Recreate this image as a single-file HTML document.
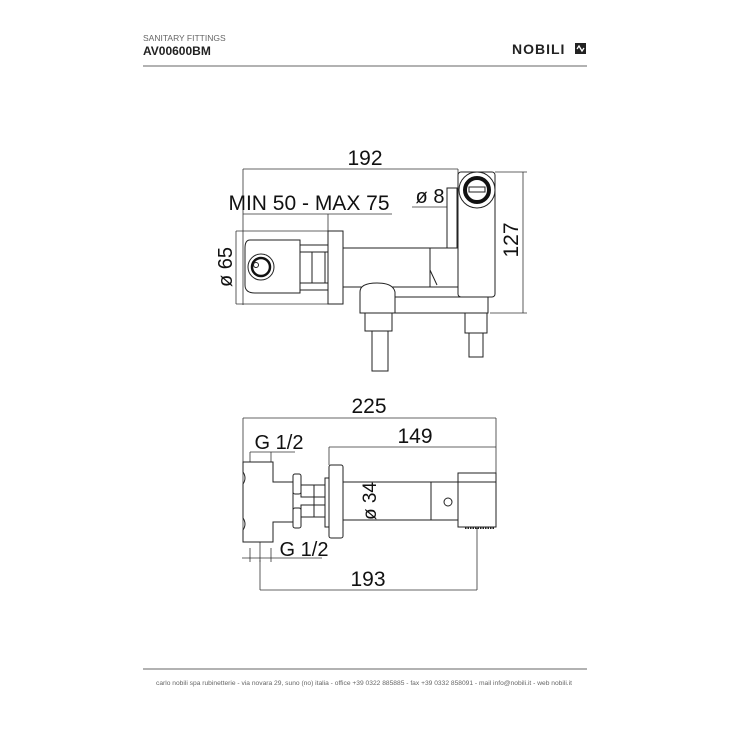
<!DOCTYPE html>
<html><head><meta charset="utf-8"><style>
html,body{margin:0;padding:0;background:#fff;width:737px;height:737px;overflow:hidden}
svg{display:block}
text{font-family:"Liberation Sans",sans-serif;fill:#111}
</style></head><body>
<svg width="737" height="737" viewBox="0 0 737 737" xmlns="http://www.w3.org/2000/svg">
<text x="143" y="41" style="fill:#666" font-size="8.5">SANITARY FITTINGS</text>
<text x="143" y="55" font-size="12" font-weight="bold" style="fill:#222">AV00600BM</text>
<text x="512" y="54" font-size="14" font-weight="bold" letter-spacing="1" style="fill:#222">NOBILI</text>
<rect x="575" y="43" width="11" height="11" fill="#222"/>
<path d="M577 49 l2 -3 l3 5 l2 -3" stroke="#fff" stroke-width="1.3" fill="none"/>
<line x1="143" y1="66" x2="587" y2="66" stroke="#999" stroke-width="1.5"/>
<line x1="143" y1="669" x2="587" y2="669" stroke="#999" stroke-width="1.5"/>
<text x="156" y="685" font-size="6.5" textLength="416" lengthAdjust="spacingAndGlyphs" style="fill:#666">carlo nobili spa rubinetterie - via novara 29, suno (no) italia - office +39 0322 885885 - fax +39 0332 858091 - mail info@nobili.it - web nobili.it</text>

<g stroke="#333" stroke-width="0.8" fill="none">
<line x1="243" y1="169" x2="458" y2="169"/>
<line x1="243" y1="169" x2="243" y2="305"/>
<line x1="458" y1="169" x2="458" y2="182"/>
<line x1="243" y1="214" x2="392" y2="214"/>
<line x1="328" y1="214" x2="328" y2="231"/>
<line x1="236" y1="231" x2="236" y2="304"/>
<line x1="236" y1="231" x2="330" y2="231"/>
<line x1="236" y1="304" x2="330" y2="304"/>
<line x1="523" y1="172" x2="523" y2="313"/>
<line x1="495" y1="172" x2="527" y2="172"/>
<line x1="490" y1="313" x2="527" y2="313"/>
<line x1="412" y1="207" x2="461" y2="207"/>
</g>
<g stroke="#222" stroke-width="1" fill="#fff">
<rect x="343" y="248" width="115" height="39"/>
<line x1="430" y1="248" x2="430" y2="287"/>
<path d="M430 270 L437 285"/>
<rect x="447" y="188" width="10" height="60"/>
<rect x="300" y="245" width="28" height="45"/>
<rect x="312" y="252" width="13" height="31"/>
<line x1="300" y1="252" x2="328" y2="252"/><line x1="300" y1="283" x2="328" y2="283"/>
<path d="M250 240 H300 V293 H255 Q245 293 245 285 V248 Q245 240 250 240 Z"/>
<rect x="328" y="231" width="15" height="73"/>
<path d="M360 313 V292 Q360 283 377 283 Q393 283 395 292 V297 H488 V313 Z"/>
<line x1="395" y1="297" x2="395" y2="313"/>
<rect x="458" y="172" width="37" height="125" rx="3"/>
<rect x="465" y="313" width="22" height="20"/>
<rect x="469" y="333" width="14" height="24"/>
<rect x="365" y="313" width="27" height="18"/>
<rect x="372" y="331" width="16" height="40"/>
</g>
<circle cx="261" cy="267" r="13" stroke="#222" stroke-width="1" fill="#fff"/>
<circle cx="261" cy="267" r="9" stroke="#111" stroke-width="2.5" fill="#fff"/>
<circle cx="256" cy="265" r="2.5" stroke="#222" stroke-width="1" fill="#fff"/>
<circle cx="477" cy="190" r="18" stroke="#222" stroke-width="1" fill="#fff"/>
<circle cx="477" cy="190" r="12" stroke="#111" stroke-width="4" fill="#fff"/>
<rect x="469" y="187" width="16" height="5" stroke="#222" stroke-width="1" fill="#fff"/>

<text x="365" y="165" font-size="21" text-anchor="middle">192</text>
<text x="309" y="210" font-size="21" text-anchor="middle">MIN  50 - MAX 75</text>
<text x="430" y="203" font-size="20" text-anchor="middle">ø 8</text>
<text transform="translate(232,267) rotate(-90)" font-size="20" text-anchor="middle">ø 65</text>
<text transform="translate(518,240) rotate(-90)" font-size="21" text-anchor="middle">127</text>

<g stroke="#333" stroke-width="0.8" fill="none">
<line x1="243" y1="418" x2="496" y2="418"/>
<line x1="243" y1="418" x2="243" y2="540"/>
<line x1="496" y1="418" x2="496" y2="473"/>
<line x1="329" y1="447" x2="496" y2="447"/>
<line x1="329" y1="447" x2="329" y2="465"/>
<line x1="250" y1="452" x2="295" y2="452"/>
<line x1="250" y1="452" x2="250" y2="462"/><line x1="271" y1="452" x2="271" y2="462"/>
<line x1="242" y1="558" x2="322" y2="558"/>
<line x1="250" y1="548" x2="250" y2="562"/><line x1="260" y1="542" x2="260" y2="562"/><line x1="271" y1="548" x2="271" y2="562"/>
<line x1="260" y1="590" x2="477" y2="590"/>
<line x1="260" y1="560" x2="260" y2="590"/>
<line x1="477" y1="528" x2="477" y2="590"/>
<line x1="381" y1="482" x2="381" y2="520"/>
</g>
<g stroke="#222" stroke-width="1" fill="#fff">
<path d="M243 462 H273 V482 H293 V522 H273 V542 H243 V530 Q247 524 243 518 V484 Q247 478 243 472 Z"/>
<rect x="293" y="474" width="8" height="20" rx="2"/>
<rect x="293" y="508" width="8" height="20" rx="2"/>
<rect x="301" y="485" width="24" height="12"/>
<rect x="301" y="505" width="24" height="12"/>
<line x1="314" y1="485" x2="314" y2="517"/>
<rect x="325" y="478" width="4" height="49"/>
<rect x="329" y="465" width="14" height="73" rx="2"/>
<rect x="343" y="482" width="115" height="38"/>
<line x1="431" y1="482" x2="431" y2="520"/>
<rect x="458" y="473" width="38" height="54"/>
<line x1="458" y1="482" x2="496" y2="482"/>
<circle cx="448" cy="502" r="4"/>
</g>
<line x1="465" y1="528" x2="494" y2="528" stroke="#222" stroke-width="2" stroke-dasharray="1.5 1"/>
<text x="369" y="413" font-size="21" text-anchor="middle">225</text>
<text x="415" y="443" font-size="21" text-anchor="middle">149</text>
<text x="279" y="449" font-size="20" text-anchor="middle">G 1/2</text>
<text x="304" y="556" font-size="20" text-anchor="middle">G 1/2</text>
<text x="368" y="586" font-size="21" text-anchor="middle">193</text>
<text transform="translate(376,501) rotate(-90)" font-size="19" text-anchor="middle">ø 34</text>
</svg>
</body></html>
